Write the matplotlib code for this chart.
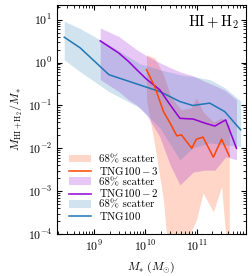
import matplotlib
matplotlib.use("Agg")
import matplotlib.pyplot as plt
import numpy as np

plt.rcParams['font.family'] = 'serif'
plt.rcParams['font.serif'] = ['cmr10', 'DejaVu Serif']
plt.rcParams['mathtext.fontset'] = 'cm'
plt.rcParams['axes.formatter.use_mathtext'] = True

##! Data (log10 of stellar mass, gas fraction)
# TNG100
logm_100 = [8.42, 8.73, 9.29, 9.89, 10.28, 10.67, 10.92, 11.25, 11.54, 11.85]
med_100 = [3.9, 2.2, 0.52, 0.30, 0.21, 0.123, 0.0996, 0.113, 0.072, 0.027]
hi_100 = [9.2, 6.2, 2.6, 0.94, 0.68, 0.52, 0.47, 0.40, 0.26, 0.128]
lo_100 = [1.16, 0.61, 0.21, 0.088, 0.030, 0.0054, 0.0102, 0.0134, 0.012, 0.011]

# TNG100-2
logm_2 = [9.12, 9.48, 9.67, 9.83, 10.02, 10.28, 10.48, 10.67, 10.93, 11.16, 11.35, 11.56, 11.77]
med_2 = [3.2, 1.67, 1.06, 0.68, 0.41, 0.23, 0.103, 0.050, 0.048, 0.0385, 0.033, 0.046, 0.010]
hi_2 = [6.4, 4.07, 2.75, 1.99, 1.44, 0.99, 0.76, 0.61, 0.49, 0.36, 0.29, 0.22, 0.135]
lo_2 = [0.40, 0.21, 0.135, 0.103, 0.060, 0.0185, 0.0041, 0.0014, 0.0028, 0.0031, 0.0031, 0.0063, 0.0054]

# TNG100-3
logm_3 = [10.02, 10.18, 10.35, 10.48, 10.61, 10.70, 10.90, 10.99, 11.12, 11.32, 11.48, 11.63]
med_3 = [0.68, 0.276, 0.072, 0.0386, 0.0195, 0.0206, 0.0100, 0.0163, 0.0182, 0.0062, 0.0163, 0.0066]
hi_3 = [1.52, 1.29, 0.52, 0.177, 0.103, 0.079, 0.088, 0.151, 0.071, 0.041, 0.051, 0.035]
lo_3 = [0.135, 0.012, 6.2e-4, 1e-5, 1e-5, 1e-5, 1.24e-4, 2.1e-4, 9.1e-4, 3.3e-4, 1.27e-3, 1e-5]

#-- convert to masses
m_100 = 10**np.array(logm_100)
m_2 = 10**np.array(logm_2)
m_3 = 10**np.array(logm_3)

fig = plt.figure(figsize=(2.52, 2.76), dpi=100)
ax = fig.add_axes([0.226, 0.152, 0.750, 0.830])

f3 = ax.fill_between(m_3, lo_3, hi_3, color='orangered', alpha=0.22, lw=0)
f2 = ax.fill_between(m_2, lo_2, hi_2, color='darkviolet', alpha=0.22, lw=0)
f1 = ax.fill_between(m_100, lo_100, hi_100, color='C0', alpha=0.2, lw=0)
l1, = ax.plot(m_100, med_100, color='C0', lw=1.1)
l2, = ax.plot(m_2, med_2, color='darkviolet', lw=1.1)
l3, = ax.plot(m_3, med_3, color='orangered', lw=1.1)

ax.set_xscale('log')
ax.set_yscale('log')
ax.set_xlim(1.9e8, 9e11)
ax.set_ylim(1e-4, 22)
ax.tick_params(which='both', direction='in', top=True, right=True, labelsize=8.5)
ax.set_xlabel(r'$M_{*}\ (M_{\odot})$', fontsize=8.5)
ax.set_ylabel(r'$M_{\rm HI+H_2}/M_{*}$', fontsize=8.5, labelpad=2)

ax.text(0.96, 0.965, r'$\rm HI+H_2$', transform=ax.transAxes,
        ha='right', va='top', fontsize=10.5)

ax.legend([f3, l3, f2, l2, f1, l1],
          ['68% scatter', r'$\rm TNG100-3$', '68% scatter', r'$\rm TNG100-2$',
           '68% scatter', r'$\rm TNG100$'],
          loc='lower left', frameon=False, fontsize=7.8, labelspacing=0.05,
          handlelength=2.0, handletextpad=0.8, borderaxespad=0.7)

fig.savefig('out.png', dpi=100)
